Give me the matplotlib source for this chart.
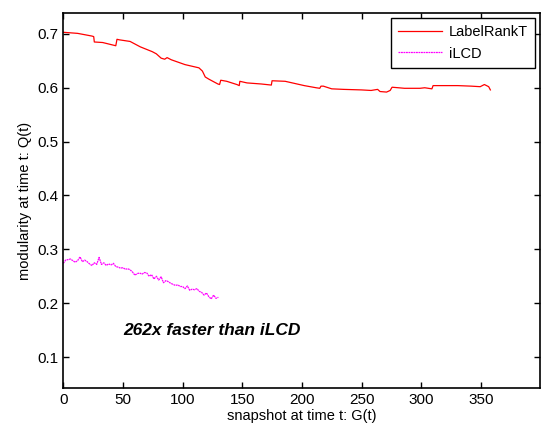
import matplotlib
matplotlib.use('Agg')
import matplotlib.pyplot as plt
import numpy as np

plt.rcParams['font.family'] = ['Liberation Sans', 'DejaVu Sans']

# LabelRankT modularity per snapshot
lr_x = [0, 12, 24, 25.5, 26, 33, 44, 45, 47, 56, 64.5, 74.6, 78, 82, 85, 87, 90.5, 102,
        113.7, 116.6, 119, 122, 129.6, 131, 132, 137, 145.5, 147.5, 148, 154, 166, 174.4,
        175, 186, 192, 202, 212, 215, 216, 218, 225, 235, 250, 258, 263.5, 265.5, 271,
        274, 275.6, 281, 286, 299, 303, 309, 310, 319, 330.6, 342, 349.5, 353, 356.6, 358]
lr_q = [0.703, 0.701, 0.696, 0.695, 0.685, 0.684, 0.678, 0.690, 0.689, 0.686, 0.676,
        0.667, 0.663, 0.655, 0.653, 0.656, 0.652, 0.643, 0.637, 0.631, 0.620, 0.616,
        0.607, 0.606, 0.614, 0.612, 0.606, 0.604, 0.612, 0.609, 0.607, 0.605, 0.613,
        0.612, 0.609, 0.604, 0.600, 0.599, 0.603, 0.603, 0.598, 0.597, 0.596, 0.595,
        0.597, 0.593, 0.592, 0.595, 0.601, 0.600, 0.599, 0.599, 0.600, 0.598, 0.604,
        0.604, 0.604, 0.603, 0.602, 0.606, 0.602, 0.596]

# iLCD modularity per snapshot
ilcd_x = list(range(0, 131, 2))
ilcd_q = [0.274, 0.280, 0.281, 0.282, 0.279, 0.276, 0.279, 0.286, 0.277, 0.280,
          0.277, 0.273, 0.270, 0.275, 0.272, 0.285, 0.272, 0.275, 0.270, 0.273,
          0.271, 0.274, 0.268, 0.267, 0.265, 0.266, 0.263, 0.264, 0.262, 0.258,
          0.252, 0.255, 0.256, 0.254, 0.257, 0.256, 0.250, 0.253, 0.245, 0.250,
          0.243, 0.249, 0.238, 0.242, 0.240, 0.237, 0.235, 0.233, 0.234, 0.231,
          0.231, 0.227, 0.232, 0.224, 0.226, 0.225, 0.227, 0.222, 0.220, 0.215,
          0.219, 0.212, 0.208, 0.215, 0.209, 0.211]

fig = plt.figure(figsize=(5.41, 4.30), dpi=100)
ax = fig.add_axes([0.117, 0.097, 0.882, 0.873])

ax.plot(lr_x, lr_q, color='red', lw=0.9, label='LabelRankT')
ax.plot(ilcd_x, ilcd_q, color='magenta', lw=0.9, ls=(0, (1.5, 0.5)), label='iLCD')

ax.set_xlim(0, 400)
ax.set_ylim(0.042, 0.739)
ax.set_xticks(np.arange(0, 351, 50))
ax.set_yticks([0.1, 0.2, 0.3, 0.4, 0.5, 0.6, 0.7])
ax.tick_params(direction='in', top=True, right=True, length=4, width=1, labelsize=11)
for s in ax.spines.values():
    s.set_linewidth(1.2)

ax.set_xlabel('snapshot at time t: G(t)', fontsize=10.5, labelpad=1)
ax.set_ylabel('modularity at time t: Q(t)', fontsize=10.5, labelpad=4)

ax.text(50.5, 0.15, '262x faster than iLCD', fontsize=12.5, fontweight='bold',
        fontstyle='italic', va='center')

leg = ax.legend(loc='upper right', fontsize=10.5, fancybox=False, framealpha=1,
                edgecolor='black', borderaxespad=0.35, handlelength=3.0,
                borderpad=0.5, labelspacing=0.5, handletextpad=0.5)
leg.get_frame().set_linewidth(1.0)

fig.savefig('out.png', dpi=100)
